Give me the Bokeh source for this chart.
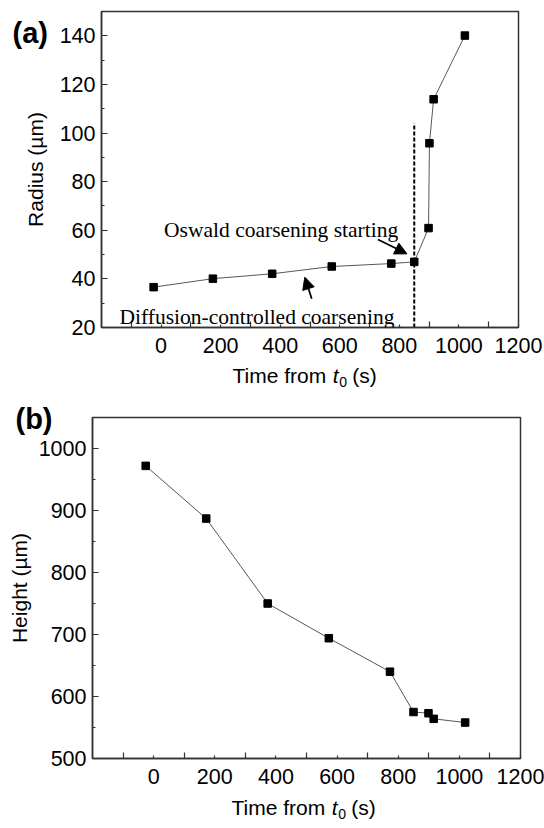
from bokeh.plotting import figure
from bokeh.models import FixedTicker, Label, Arrow, NormalHead, Range1d
from bokeh.embed import file_html
from bokeh.resources import INLINE

# ---------------- data ----------------
time_a = [-25, 174, 373, 573, 773, 850, 898, 901, 915, 1020]
radius = [36.6, 40.1, 42.1, 45.1, 46.3, 47.0, 60.9, 95.8, 113.9, 140.1]

time_b = [-26, 172, 373, 573, 773, 850, 899, 916, 1019]
height = [972, 887, 750, 694, 640, 575, 573, 564, 558]

onset_x = [850, 850]
onset_y = [20, 104]

x_label_ticks = [0, 200, 400, 600, 800, 1000, 1200]
x_long_ticks = [-100, 100, 300, 500, 700, 900, 1100]
radius_ticks = [20, 40, 60, 80, 100, 120, 140]
radius_minor = [30, 50, 70, 90, 110, 130, 150]
height_ticks = [500, 600, 700, 800, 900, 1000]
height_minor = [550, 650, 750, 850, 950, 1050]

ann_text = ["Oswald coarsening starting", "Diffusion-controlled coarsening"]
ann_x = [403, 322]
ann_y = [60.1, 24.5]
arrow_x0 = [728, 505.8]
arrow_y0 = [56.2, 31.8]
arrow_x1 = [825.6, 482.6]
arrow_y1 = [50.3, 40.7]

panel_tags = ["(a)", "(b)"]

SANS = "Liberation Sans"
SERIF = "Liberation Serif"
AX = "#333333"
W = 544
H_A = 400
H_B = 420
H_OV = 828


def style(p, yticks, yminor, ylabel, ylabel_standoff):
    p.xgrid.visible = False
    p.ygrid.visible = False
    p.outline_line_color = AX
    p.outline_line_width = 1.5
    p.background_fill_color = "white"
    p.border_fill_color = "white"
    xa = p.xaxis[0]
    xa.ticker = FixedTicker(ticks=x_label_ticks, minor_ticks=x_long_ticks)
    xa.major_tick_in = 3
    xa.major_tick_out = 0
    xa.minor_tick_in = 6
    xa.minor_tick_out = 0
    xa.major_label_standoff = 10
    ya = p.yaxis[0]
    ya.ticker = FixedTicker(ticks=yticks, minor_ticks=yminor)
    ya.major_tick_in = 6
    ya.major_tick_out = 0
    ya.minor_tick_in = 3
    ya.minor_tick_out = 0
    ya.major_label_standoff = 6
    ya.axis_label = ylabel
    ya.axis_label_text_font = SANS
    ya.axis_label_text_font_size = "21px"
    ya.axis_label_text_font_style = "normal"
    ya.axis_label_text_color = "black"
    ya.axis_label_standoff = ylabel_standoff
    for a in (xa, ya):
        a.axis_line_color = AX
        a.axis_line_width = 1.5
        a.major_tick_line_color = AX
        a.minor_tick_line_color = AX
        a.major_tick_line_width = 1.2
        a.minor_tick_line_width = 1.2
        a.major_label_text_font = SANS
        a.major_label_text_font_size = "21.5px"
        a.major_label_text_color = "black"


# ---------------- panel (a) ----------------
pa = figure(width=W, height=H_A, output_backend="svg", toolbar_location=None,
            x_range=Range1d(-200, 1200), y_range=Range1d(20, 150),
            min_border_left=101, min_border_right=26, min_border_top=11,
            min_border_bottom=73)
style(pa, radius_ticks, radius_minor, "Radius (µm)", 10)
pa.line(time_a, radius, line_color="#444444", line_width=0.9)
pa.scatter(time_a, radius, marker="square", size=7.5, fill_color="black",
           line_color="black")
pa.line(onset_x, onset_y, line_color="black", line_width=2, line_dash="4 2")

for t, x, y in zip(ann_text, ann_x, ann_y):
    pa.add_layout(Label(x=x, y=y, text=t, text_font=SERIF, text_font_size="21.5px",
                        text_align="center", text_baseline="alphabetic",
                        text_color="black"))
for x0, y0, x1, y1 in zip(arrow_x0, arrow_y0, arrow_x1, arrow_y1):
    pa.add_layout(Arrow(x_start=x0, y_start=y0, x_end=x1, y_end=y1,
                        line_color="black", line_width=1.7,
                        end=NormalHead(size=12, fill_color="black",
                                       line_color="black", line_width=1)))

# ---------------- panel (b) ----------------
pb = figure(width=W, height=H_B, output_backend="svg", toolbar_location=None,
            x_range=Range1d(-200, 1200), y_range=Range1d(500, 1050),
            min_border_left=92, min_border_right=24, min_border_top=17,
            min_border_bottom=62)
style(pb, height_ticks, height_minor, "Height (µm)", 5)
pb.line(time_b, height, line_color="#444444", line_width=0.9)
pb.scatter(time_b, height, marker="square", size=7.5, fill_color="black",
           line_color="black")

# ---------------- transparent overlay for texts outside the plot frames ----------------
ov = figure(width=W, height=H_OV, output_backend="svg", toolbar_location=None,
            x_range=Range1d(0, W), y_range=Range1d(H_OV, 0),
            x_axis_type=None, y_axis_type=None, min_border=0,
            outline_line_color=None, background_fill_alpha=0, border_fill_alpha=0,
            margin=(-H_OV, 0, 0, 0))
ov.xgrid.visible = False
ov.ygrid.visible = False

tag_pos = [(12, 40), (15, 426)]
for tag, (tx, ty) in zip(panel_tags, tag_pos):
    ov.add_layout(Label(x=tx, y=ty, text=tag, text_font=SANS, text_font_size="29px",
                        text_font_style="bold", text_color="black",
                        text_baseline="alphabetic", text_align="left"))


def xlabel(x0, y0):
    fs = 21
    w_time = 4.778 * fs
    w_t = 0.278 * fs
    w_sub = 0.556 * 14
    kw = dict(text_font=SANS, text_color="black", text_baseline="alphabetic",
              text_align="left")
    ov.add_layout(Label(x=x0, y=y0, text="Time from", text_font_size=f"{fs}px", **kw))
    ov.add_layout(Label(x=x0 + w_time, y=y0, text="t", text_font_size=f"{fs}px",
                        text_font_style="italic", **kw))
    ov.add_layout(Label(x=x0 + w_time + w_t + 0.5, y=y0 + 6, text="0",
                        text_font_size="14px", **kw))
    ov.add_layout(Label(x=x0 + w_time + w_t + w_sub + 0.278 * fs, y=y0, text="(s)",
                        text_font_size=f"{fs}px", **kw))


xlabel(232, 383)
xlabel(231, 815)

open("out.html", "w").write(file_html([pa, pb, ov], INLINE))
